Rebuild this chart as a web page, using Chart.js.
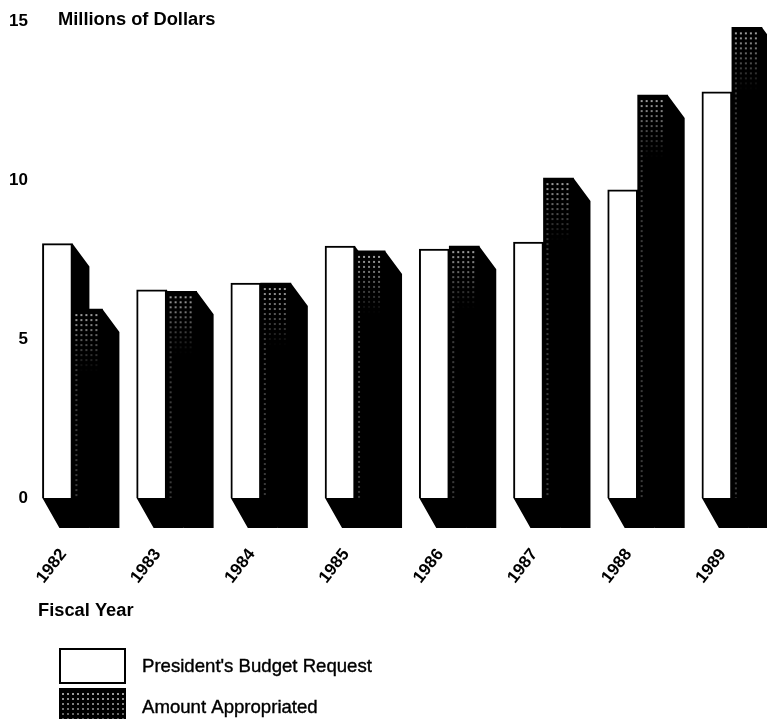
<!DOCTYPE html>
<html>
<head>
<meta charset="utf-8">
<title>Budget Request and Appropriation</title>
<script src="https://cdn.jsdelivr.net/npm/chart.js@4"></script>
<style>
  html, body { margin: 0; padding: 0; background: #fff; overflow: hidden; }
  #wrap { width: 767px; height: 719px; overflow: hidden; }
</style>
</head>
<body>
<div id="wrap"><canvas id="myChart" width="800" height="719" style="display:block;width:800px;height:719px"></canvas></div>
<script>
// data, millions of dollars
var years = ["1982", "1983", "1984", "1985", "1986", "1987", "1988", "1989"];
var budgetRequest = [8.0, 6.55, 6.76, 7.92, 7.83, 8.05, 9.69, 12.77];
var appropriated = [5.94, 6.5, 6.76, 7.77, 7.92, 10.06, 12.67, 14.8];
var seriesNames = ["President's Budget Request", "Amount Appropriated"];
var yTicks = [0, 5, 10, 15];

var INK = "#000000";
var DEPTH_X = 17, DEPTH_TOP = 23, DEPTH_BASE = 30;

// grey dots over black, stronger at the top of the bar and gone further down
function speckle(ctx, left, top, w, h) {
    ctx.save();
    ctx.beginPath();
    ctx.rect(left, top, w, h);
    ctx.clip();
    for (var yy = top + 5; yy < top + h; yy += 5) {
        var fade = 1 - (yy - top) / 62;
        for (var xx = left + 3; xx < left + w - 3; xx += 5) {
            var a = xx < left + 8 ? Math.max(fade, 0.35) : fade;
            if (a <= 0) continue;
            ctx.fillStyle = "rgba(225,225,225," + (a * 0.75).toFixed(2) + ")";
            ctx.fillRect(xx, yy, 2, 2);
        }
    }
    ctx.restore();
}

var depthPlugin = {
    id: "depth",
    beforeDatasetsDraw: function (chart) {
        var ctx = chart.ctx;
        ctx.save();
        ctx.fillStyle = INK;
        chart.data.datasets.forEach(function (ds, i) {
            chart.getDatasetMeta(i).data.forEach(function (bar) {
                var p = bar.getProps(["x", "y", "base", "width"]);
                var l = p.x - p.width / 2, r = p.x + p.width / 2;
                ctx.beginPath();
                ctx.moveTo(l, p.base);
                ctx.lineTo(l + DEPTH_X, p.base + DEPTH_BASE);
                ctx.lineTo(r + DEPTH_X, p.base + DEPTH_BASE);
                ctx.lineTo(r + DEPTH_X, p.y + DEPTH_TOP);
                ctx.lineTo(r, p.y);
                // tuck under the bar so no seam shows
                ctx.lineTo(r - 2, p.y + 1);
                ctx.lineTo(r - 2, p.base);
                ctx.closePath();
                ctx.fill();
            });
        });
        ctx.restore();
    },
    afterDatasetsDraw: function (chart) {
        var ctx = chart.ctx;
        chart.getDatasetMeta(1).data.forEach(function (bar) {
            var p = bar.getProps(["x", "y", "base", "width"]);
            speckle(ctx, p.x - p.width / 2, p.y, p.width, p.base - p.y);
        });
    }
};

// axis captions and the legend sit outside the plot area
var textPlugin = {
    id: "captions",
    afterDraw: function (chart) {
        var ctx = chart.ctx;
        ctx.save();
        ctx.fillStyle = INK;
        ctx.strokeStyle = INK;
        ctx.textBaseline = "middle";
        ctx.textAlign = "left";
        ctx.font = "bold 18.3px 'Liberation Sans'";
        ctx.fillText("Millions of Dollars", 58, 20);
        ctx.fillText("Fiscal Year", 38, 611);

        ctx.font = "18.6px 'Liberation Sans'";
        ctx.lineWidth = 0.4;
        ctx.fillText(seriesNames[0], 142, 667);
        ctx.strokeText(seriesNames[0], 142, 667);
        ctx.fillText(seriesNames[1], 142, 708);
        ctx.strokeText(seriesNames[1], 142, 708);

        ctx.lineWidth = 2;
        ctx.strokeRect(60, 649, 65, 34);
        ctx.fillRect(59, 688, 67, 31);
        speckle(ctx, 59, 688, 67, 31);
        ctx.restore();
    }
};

var ctx = document.getElementById("myChart");
var myChart = new Chart(ctx, {
    type: "bar",
    data: {
        labels: years,
        datasets: [
            {
                label: seriesNames[0],
                data: budgetRequest,
                backgroundColor: "#ffffff",
                borderColor: INK,
                borderWidth: 2
            },
            {
                label: seriesNames[1],
                data: appropriated,
                backgroundColor: INK,
                borderWidth: 0
            }
        ]
    },
    options: {
        responsive: false,
        animation: false,
        layout: { padding: { top: 21, left: 0, right: 21, bottom: 0 } },
        datasets: { bar: { barThickness: 30 } },
        plugins: { legend: { display: false }, tooltip: { enabled: false } },
        scales: {
            x: {
                grid: { display: false, drawTicks: false },
                border: { display: false },
                afterFit: function (scale) { scale.height = 221; },
                ticks: {
                    autoSkip: false,
                    minRotation: 52,
                    maxRotation: 52,
                    padding: 47,
                    labelOffset: -9,
                    color: INK,
                    font: { family: "'Liberation Sans'", size: 17, weight: "bold" }
                }
            },
            y: {
                min: 0,
                max: 15,
                grid: { display: false, drawTicks: false },
                border: { display: false },
                afterFit: function (scale) { scale.width = 25.3; },
                afterBuildTicks: function (scale) {
                    scale.ticks = yTicks.map(function (v) { return { value: v }; });
                },
                ticks: {
                    // mirror keeps the labels from being clipped at the narrow axis box
                    mirror: true,
                    crossAlign: "far",
                    padding: -16.3,
                    color: INK,
                    font: { family: "'Liberation Sans'", size: 17, weight: "bold" }
                }
            }
        }
    },
    plugins: [depthPlugin, textPlugin]
});
</script>
</body>
</html>
